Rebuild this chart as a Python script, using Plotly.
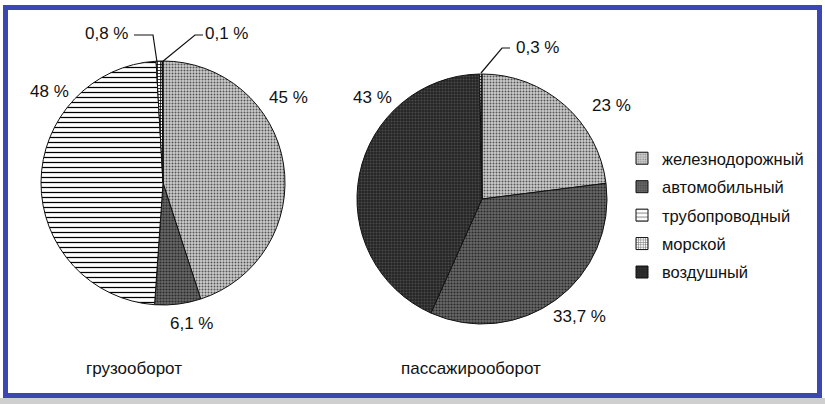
import plotly.graph_objects as go

W, H = 825, 404

modes = ["железнодорожный", "автомобильный", "трубопроводный", "морской", "воздушный"]
cargo_values = [45, 6.1, 48, 0.8, 0.1]
pass_labels = ["железнодорожный", "автомобильный", "воздушный", "морской"]
pass_values = [23, 33.7, 43, 0.3]
cargo_title = "грузооборот"
pass_title = "пассажирооборот"
cargo_text = ["45 %", "6,1 %", "48 %", "0,8 %", "0,1 %"]
pass_text = ["23 %", "33,7 %", "43 %", "0,3 %"]

style = {
    "железнодорожный": dict(bg="#cdcdcd", fg="#555555", shape=".", size=3, sol=0.35),
    "автомобильный": dict(bg="#686868", fg="#2a2a2a", shape=".", size=3, sol=0.4),
    "трубопроводный": dict(bg="#ffffff", fg="#000000", shape="-", size=5, sol=0.25),
    "морской": dict(bg="#ffffff", fg="#000000", shape="+", size=3, sol=0.45),
    "воздушный": dict(bg="#242424", fg="#4a4a4a", shape=".", size=3, sol=0.4),
}

def px(x):
    return x / W

def py(y):
    return 1 - y / H

def marker_for(labels):
    return dict(
        colors=[style[l]["bg"] for l in labels],
        line=dict(color="#111111", width=1),
        pattern=dict(
            shape=[style[l]["shape"] for l in labels],
            fgcolor=[style[l]["fg"] for l in labels],
            bgcolor=[style[l]["bg"] for l in labels],
            size=[style[l]["size"] for l in labels],
            solidity=[style[l]["sol"] for l in labels],
        ),
    )

fig = go.Figure()

# pie 1: center (163,183), r 122
fig.add_trace(go.Pie(
    labels=modes, values=cargo_values, sort=False, direction="clockwise", rotation=0,
    textinfo="none", hoverinfo="label+value", showlegend=False,
    marker=marker_for(modes),
    domain=dict(x=[px(41), px(285)], y=[py(305), py(61)]),
))
# pie 2: center (482,199), r 125
fig.add_trace(go.Pie(
    labels=pass_labels, values=pass_values, sort=False, direction="clockwise", rotation=0,
    textinfo="none", hoverinfo="label+value", showlegend=False,
    marker=marker_for(pass_labels),
    domain=dict(x=[px(357), px(607)], y=[py(324), py(74)]),
))

# legend entries
for i, m in enumerate(modes):
    s = style[m]
    fig.add_trace(go.Bar(
        x=[None], y=[None], name=m, legendgroup=m,
        marker=dict(color=s["bg"], line=dict(color="#111111", width=1),
                    pattern=dict(shape=s["shape"], fgcolor=s["fg"], bgcolor=s["bg"],
                                 size=s["size"], solidity=s["sol"])),
        showlegend=True,
    ))

FAM = "Liberation Sans, Arial, sans-serif"
font = dict(family=FAM, size=17, color="#111111")

ann = []
cargo_pos = [(288, 97), (191, 323), (49, 92), (106, 34), (226, 34)]
pass_pos = [(611, 105), (579, 316), (372, 97), (537, 47)]
for t, (x, y) in zip(cargo_text, cargo_pos):
    ann.append(dict(x=px(x), y=py(y), xref="paper", yref="paper", text=t, showarrow=False,
                    font=font, xanchor="center", yanchor="middle"))
for t, (x, y) in zip(pass_text, pass_pos):
    ann.append(dict(x=px(x), y=py(y), xref="paper", yref="paper", text=t, showarrow=False,
                    font=font, xanchor="center", yanchor="middle"))
ann.append(dict(x=px(134), y=py(368), xref="paper", yref="paper", text=cargo_title, showarrow=False,
                xanchor="center", yanchor="middle", font=dict(family=FAM, size=17, color="#111111")))
ann.append(dict(x=px(471), y=py(368), xref="paper", yref="paper", text=pass_title, showarrow=False,
                xanchor="center", yanchor="middle", font=dict(family=FAM, size=17, color="#111111")))

def path(points):
    return "M " + " L ".join(f"{px(a)},{py(b)}" for a, b in points)

shapes = [
    # leader lines
    dict(type="path", xref="paper", yref="paper", path=path([(134, 35), (153, 35), (157, 62)]),
         line=dict(color="#111111", width=1.2)),
    dict(type="path", xref="paper", yref="paper", path=path([(203, 35), (195, 35), (162, 62)]),
         line=dict(color="#111111", width=1.2)),
    dict(type="path", xref="paper", yref="paper", path=path([(510, 48), (502, 48), (481, 73)]),
         line=dict(color="#111111", width=1.2)),
    # bottom grey strip
    dict(type="rect", xref="paper", yref="paper", x0=0, x1=1, y0=0, y1=py(398),
         fillcolor="#cfcfcf", line=dict(width=0), layer="below"),
    # blue frame
    dict(type="rect", xref="paper", yref="paper", x0=px(5.5), x1=px(819.5), y0=py(395.5), y1=py(7.5),
         line=dict(color="#3d47b3", width=5)),
]

fig.update_layout(
    width=W, height=H,
    margin=dict(l=0, r=0, t=0, b=0),
    paper_bgcolor="white", plot_bgcolor="white",
    xaxis=dict(visible=False, domain=[0.99, 1]), yaxis=dict(visible=False, domain=[0.99, 1]),
    annotations=ann, shapes=shapes,
    legend=dict(x=px(622), y=py(141), xanchor="left", yanchor="top",
                font=dict(family=FAM, size=16.5, color="#111111"),
                tracegroupgap=4, bgcolor="rgba(0,0,0,0)", traceorder="grouped"),
    showlegend=True,
)

fig.write_html("out.html", config={"displayModeBar": False},
               post_script="document.body.style.margin='0';document.body.style.overflow='hidden';")
